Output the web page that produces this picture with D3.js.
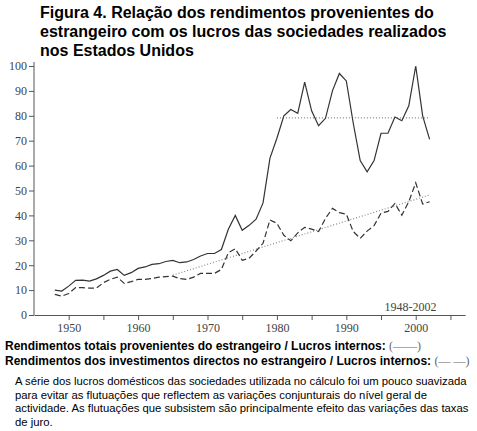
<!DOCTYPE html>
<html>
<head>
<meta charset="utf-8">
<script src="https://cdn.jsdelivr.net/npm/d3@7"></script>
<style>
  body { margin: 0; background: #fff; }
  svg { display: block; }
</style>
</head>
<body>
<svg></svg>
<script>
var width = 477;
var height = 431;

// anos 1948-2002
var years = d3.range(1948, 2003);

// rendimentos totais / lucros internos
var totalRatio = [
  10, 9.6, 11.6, 13.9, 14, 13.6, 14.5, 15.9, 17.6, 18.3,
  15.9, 17, 18.7, 19.3, 20.3, 20.6, 21.5, 21.9, 21, 21.3,
  22.3, 23.7, 24.7, 24.7, 26.3, 34.4, 40, 34, 36, 38.5,
  45, 63, 71, 80, 82.5, 81, 93.5, 82, 76, 79,
  90, 97, 94, 77, 62, 57.5, 62, 73, 73, 79.5,
  78, 84, 100, 80, 70.5
];

// investimentos directos / lucros internos
var directRatio = [
  8.3, 7.6, 8.6, 11, 11, 10.8, 10.8, 13, 14.3, 15.2,
  12.7, 13.4, 14.3, 14.3, 14.7, 15.2, 15.4, 15.6, 14.6, 14.3,
  15.2, 16.7, 16.7, 16.7, 18.3, 25, 26.6, 22, 22.8, 25.7,
  28.8, 38.2, 36.8, 32, 29.8, 33, 35.2, 34.5, 33.5, 38.8,
  42.8, 41.1, 40.5, 33.5, 30.8, 33.7, 35.9, 40.9, 41.6, 44.8,
  40.1, 45.5, 53.1, 44.6, 45.5
];

// linhas de tendencia (pontilhado)
var levelTrend = [{ year: 1980, value: 79.2 }, { year: 2002, value: 79.2 }];
var linearTrend = [{ year: 1965, value: 16 }, { year: 2002, value: 48.2 }];

var xTicks = d3.range(1950, 2006, 5);
var xLabels = [1950, 1960, 1970, 1980, 1990, 2000];
var yTicks = d3.range(0, 101, 10);

var titleLines = [
  "Figura 4. Relação dos rendimentos provenientes do",
  "estrangeiro com os lucros das sociedades realizados",
  "nos Estados Unidos"
];
var legendLines = [
  { text: "Rendimentos totais provenientes do estrangeiro / Lucros internos:", key: "(——)" },
  { text: "Rendimentos dos investimentos directos no estrangeiro / Lucros internos:", key: "(— —)" }
];
var noteLines = [
  "A série dos lucros domésticos das sociedades utilizada no cálculo foi um pouco suavizada",
  "para evitar as flutuações que reflectem as variações conjunturais do nível geral de",
  "actividade. As flutuações que subsistem são principalmente efeito das variações das taxas",
  "de juro."
];

var svg = d3.select("svg")
  .attr("width", width)
  .attr("height", height);

var x = d3.scaleLinear().domain([1945, 2007.1]).range([34, 465]);
var y = d3.scaleLinear().domain([0, 100]).range([315, 66]);

// titulo
svg.append("g")
  .selectAll("text")
  .data(titleLines)
  .enter()
  .append("text")
    .attr("x", 40)
    .attr("y", (d, i) => 18 + i * 19)
    .attr("font-family", "Liberation Sans, Arial, sans-serif")
    .attr("font-weight", "bold")
    .attr("font-size", 16)
    .attr("fill", "#000")
    .text(d => d);

// eixos
var tickFont = "Liberation Serif, serif";

var xAxis = svg.append("g")
  .attr("transform", "translate(0," + y(0) + ")")
  .call(d3.axisBottom(x)
    .tickValues(xTicks)
    .tickSize(5)
    .tickPadding(3)
    .tickSizeOuter(0)
    .tickFormat(d => xLabels.indexOf(d) >= 0 ? d : ""));

var yAxis = svg.append("g")
  .attr("transform", "translate(" + x(1945) + ",0)")
  .call(d3.axisLeft(y)
    .tickValues(yTicks)
    .tickSize(5)
    .tickPadding(2)
    .tickSizeOuter(0));

[xAxis, yAxis].forEach(function(ax) {
  ax.select(".domain").attr("stroke", "#555");
  ax.selectAll(".tick line").attr("stroke", "#555");
  ax.selectAll(".tick text")
    .attr("font-family", tickFont)
    .attr("font-size", 12)
    .attr("fill", "#444");
});
yAxis.select(".domain").attr("d", "M0," + y(0) + "V" + (y(100) - 4));

// pontilhados
var trendLine = d3.line().x(d => x(d.year)).y(d => y(d.value));
[levelTrend, linearTrend].forEach(function(t) {
  svg.append("path")
    .datum(t)
    .attr("d", trendLine)
    .attr("fill", "none")
    .attr("stroke", "#8a8a80")
    .attr("stroke-width", 1.2)
    .attr("stroke-dasharray", "1,2");
});

// series
var seriesLine = d3.line()
  .x((d, i) => x(years[i]))
  .y(d => y(d));

svg.append("path")
  .datum(totalRatio)
  .attr("d", seriesLine)
  .attr("fill", "none")
  .attr("stroke", "#333")
  .attr("stroke-width", 1.2);

svg.append("path")
  .datum(directRatio)
  .attr("d", seriesLine)
  .attr("fill", "none")
  .attr("stroke", "#333")
  .attr("stroke-width", 1.2)
  .attr("stroke-dasharray", "6,3");

svg.append("text")
  .attr("x", x(1995.5))
  .attr("y", 311)
  .attr("font-family", tickFont)
  .attr("font-size", 12)
  .attr("fill", "#444")
  .text("1948-2002");

// legenda
var legend = svg.append("g")
  .selectAll("text")
  .data(legendLines)
  .enter()
  .append("text")
    .attr("x", 5)
    .attr("y", (d, i) => 350 + i * 15)
    .attr("font-family", "Liberation Sans, Arial, sans-serif")
    .attr("font-weight", "bold")
    .attr("font-size", 12)
    .attr("fill", "#000");

legend.append("tspan").text(d => d.text + " ");
legend.append("tspan")
  .attr("font-weight", "normal")
  .attr("font-family", tickFont)
  .attr("fill", "#666")
  .text(d => d.key);

// nota
svg.append("g")
  .selectAll("text")
  .data(noteLines)
  .enter()
  .append("text")
    .attr("x", 15)
    .attr("y", (d, i) => 385 + i * 13.7)
    .attr("font-family", "Liberation Sans, Arial, sans-serif")
    .attr("font-size", 11.3)
    .attr("fill", "#000")
    .text(d => d);
</script>
</body>
</html>
